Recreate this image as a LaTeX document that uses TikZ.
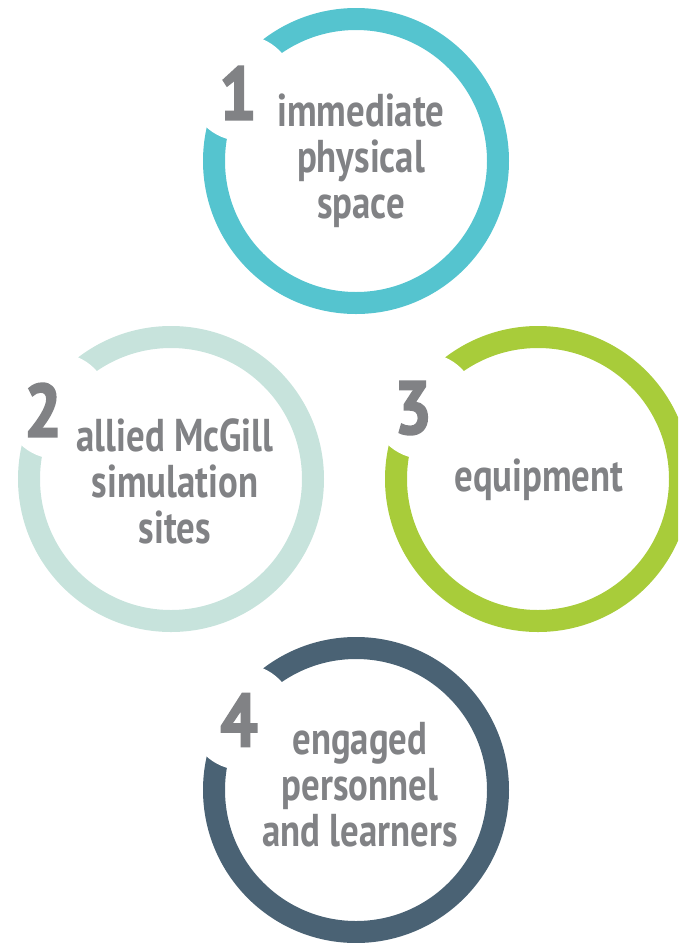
\documentclass[tikz,border=0pt]{standalone}
\usepackage{fontspec}
\newfontfamily\lblfont{PT Sans}[FakeStretch=0.8]
\newfontfamily\numfont{PT Sans}[FakeStretch=0.88,FakeBold=2.5]
\definecolor{cteal}{HTML}{55C4CF}
\definecolor{cmint}{HTML}{C7E3DC}
\definecolor{clime}{HTML}{A8CC3A}
\definecolor{cslate}{HTML}{4A6274}
\definecolor{cgray}{HTML}{818285}
\begin{document}
\begin{tikzpicture}[x=1pt,y=-1pt,
  ring/.style={line width=22pt},
  gapdisc/.style={fill=white,draw=none},
  lbl/.style={text=cgray,font=\lblfont\bfseries\fontsize{46}{46}\selectfont,align=center,inner sep=0pt},
  num/.style={text=cgray,font=\numfont\bfseries\fontsize{75}{75}\selectfont,inner sep=0pt}]
\useasboundingbox (0,0) rectangle (678,943);
\clip (0,0) rectangle (678,943);
% rings
\draw[ring,cteal]  (356,161) circle (142);
\draw[ring,cmint]  (171,479) circle (142);
\draw[ring,clime]  (538,479) circle (142);
\draw[ring,cslate] (356,790) circle (142);
% gaps behind the numbers
\fill[gapdisc] (242,88) circle (53);
\fill[gapdisc] (57,406) circle (53);
\fill[gapdisc] (424,406) circle (53);
\fill[gapdisc] (242,717) circle (53);
% numbers
\node[num] (n1) at (238,93) {1};
\node[num] (n2) at (43,410) {2};
\node[num] (n3) at (413,408) {3};
\node[num] (n4) at (239,720) {4};
% labels
\node[lbl] (t1) at (361,161) {immediate\\physical\\space};
\node[lbl] (t2) at (175,481) {allied McGill\\simulation\\sites};
\node[lbl] (t3) at (539,480) {equipment};
\node[lbl] (t4) at (360,785) {engaged\\personnel\\and learners};
\end{tikzpicture}
\end{document}
